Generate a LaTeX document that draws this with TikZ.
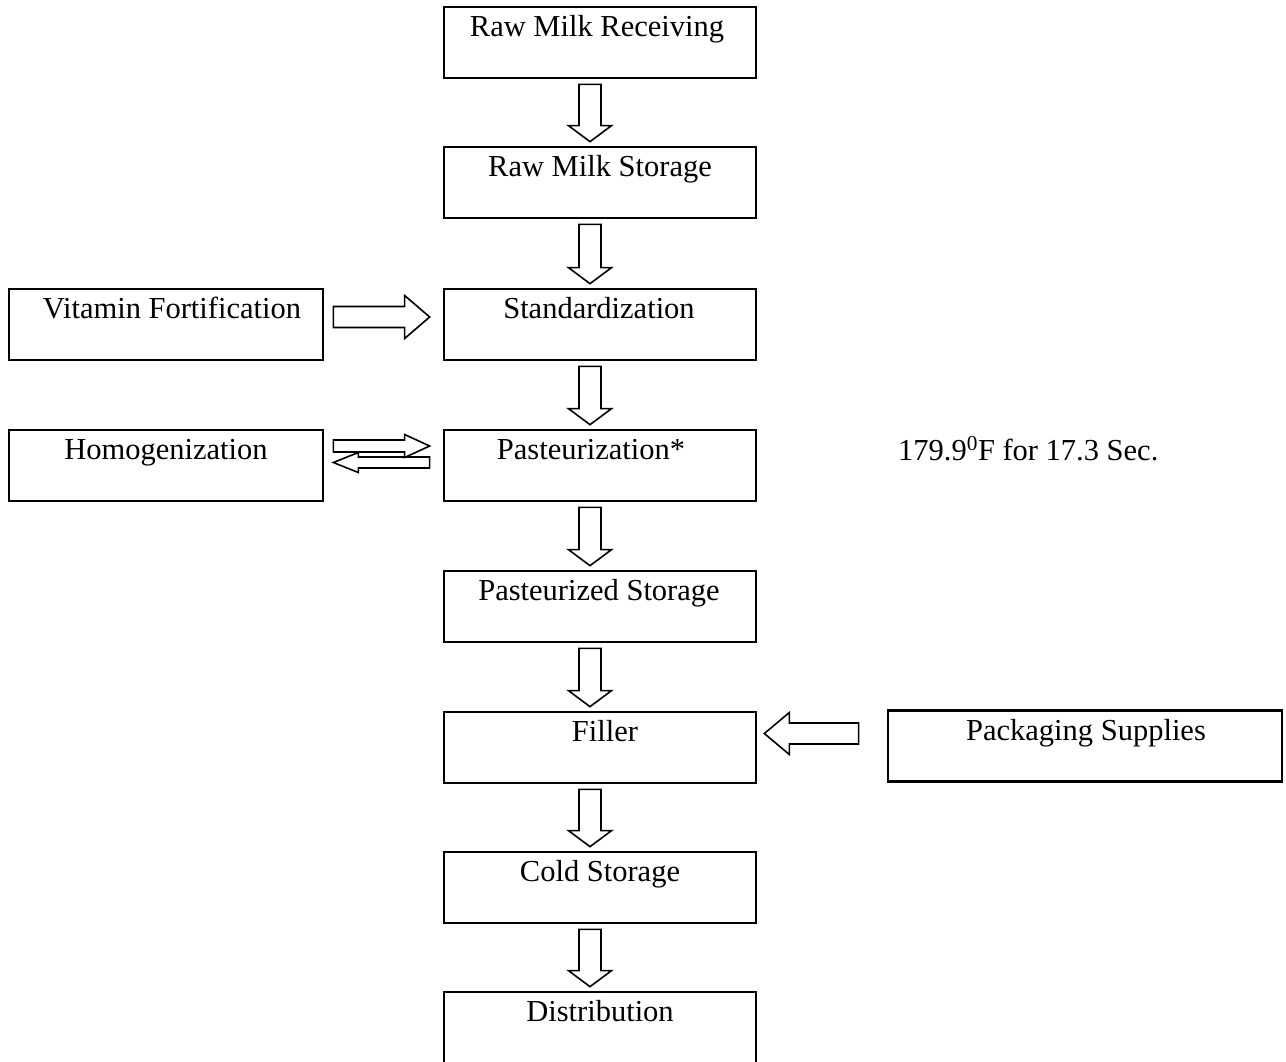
\documentclass[tikz,border=0pt]{standalone}
\usepackage{fontspec}
\setmainfont{Liberation Serif}
\usetikzlibrary{calc}
\tikzset{
  box/.style={draw, line width=2.7pt, minimum width=312pt, minimum height=71pt, inner sep=0pt},
  sidebox/.style={box, minimum width=314pt},
  lbl/.style={anchor=base, inner sep=0pt, font=\fontsize{30.5}{36}\selectfont},
  blockarrow/.style={draw, line width=1.6pt, fill=white, line join=miter},
}
\newcommand\dnarrow[2]{\draw[blockarrow] let \p1=(#1.south), \p2=(#2.north) in
  (\x1-21pt,\y1-5pt) -- (\x1+1pt,\y1-5pt) -- (\x1+1pt,\y2+20pt) -- (\x1+11.5pt,\y2+20pt)
  -- (\x1-10pt,\y2+4pt) -- (\x1-31.5pt,\y2+20pt) -- (\x1-21pt,\y2+20pt) -- cycle;}
% #1 left node, #2 right node, #3 offset, #4 shaft half, #5 head half, #6 gap at left, #7 gap at right
\newcommand\rtarrow[7]{\draw[blockarrow] let \p1=(#1.east), \p2=(#2.west), \n1={\y1+#3} in
  (\x1+#6,\n1+#4) -- (\x2-#7-25pt,\n1+#4) -- (\x2-#7-25pt,\n1+#5) -- (\x2-#7,\n1)
  -- (\x2-#7-25pt,\n1-#5) -- (\x2-#7-25pt,\n1-#4) -- (\x1+#6,\n1-#4) -- cycle;}
\newcommand\ltarrow[7]{\draw[blockarrow] let \p1=(#1.east), \p2=(#2.west), \n1={\y1+#3} in
  (\x2-#7,\n1+#4) -- (\x1+#6+25pt,\n1+#4) -- (\x1+#6+25pt,\n1+#5) -- (\x1+#6,\n1)
  -- (\x1+#6+25pt,\n1-#5) -- (\x1+#6+25pt,\n1-#4) -- (\x2-#7,\n1-#4) -- cycle;}
\begin{document}
\begin{tikzpicture}[x=1pt,y=1pt]
\useasboundingbox (0,0) rectangle (1286,-1061);
\clip (0,0) rectangle (1286,-1061);
% main column
\node[box] (b1) at (600,-42.5) {};
\node[box] (b2) at (600,-182.5) {};
\node[box] (b3) at (600,-324.5) {};
\node[box] (b4) at (600,-465.5) {};
\node[box] (b5) at (600,-606.5) {};
\node[box] (b6) at (600,-747.5) {};
\node[box] (b7) at (600,-887.5) {};
\node[box] (b8) at (600,-1027.5) {};
% side boxes
\node[sidebox] (vit) at (166,-324.5) {};
\node[sidebox] (hom) at (166,-465.5) {};
\node[box, minimum width=394pt] (pack) at (1085,-746) {};
% labels
\node[lbl] (t1) at ([xshift=-3pt,yshift=-31pt]b1.north) {Raw Milk Receiving};
\node[lbl] (t2) at ([yshift=-31pt]b2.north) {Raw Milk Storage};
\node[lbl] (t3) at ([xshift=-1pt,yshift=-31pt]b3.north) {Standardization};
\node[lbl] (t4) at ([xshift=-9pt,yshift=-31pt]b4.north) {Pasteurization*};
\node[lbl] (t5) at ([xshift=-1pt,yshift=-31pt]b5.north) {Pasteurized Storage};
\node[lbl] (t6) at ([xshift=5pt,yshift=-31pt]b6.north) {Filler};
\node[lbl] (t7) at ([yshift=-31pt]b7.north) {Cold Storage};
\node[lbl] (t8) at ([yshift=-31pt]b8.north) {Distribution};
\node[lbl] (tv) at ([xshift=6pt,yshift=-31pt]vit.north) {Vitamin Fortification};
\node[lbl] (th) at ([yshift=-31pt]hom.north) {Homogenization};
\node[lbl] (tp) at ([xshift=1pt,yshift=-31pt]pack.north) {Packaging Supplies};
\node[lbl, anchor=base west] (temp) at (898,-460) {179.9\textsuperscript{0}F for 17.3 Sec.};
% down arrows
\dnarrow{b1}{b2}
\dnarrow{b2}{b3}
\dnarrow{b3}{b4}
\dnarrow{b4}{b5}
\dnarrow{b5}{b6}
\dnarrow{b6}{b7}
\dnarrow{b7}{b8}
% side arrows
\rtarrow{vit}{b3}{7.5pt}{10.5pt}{21.5pt}{9pt}{13pt}
\ltarrow{hom}{b4}{3pt}{5.5pt}{10pt}{9pt}{13pt}
\rtarrow{hom}{b4}{19.5pt}{6pt}{11.5pt}{9pt}{13pt}
\ltarrow{b6}{pack}{14pt}{10.5pt}{21pt}{7pt}{28pt}
\end{tikzpicture}
\end{document}
